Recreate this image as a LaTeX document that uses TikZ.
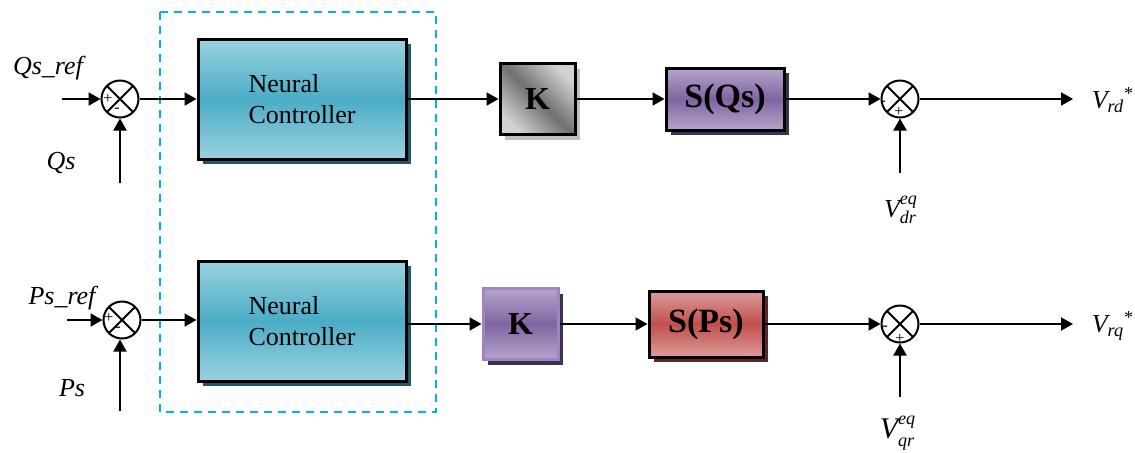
\documentclass[tikz,border=0pt]{standalone}
\usepackage{fontspec}
\setmainfont{Liberation Serif}
\usetikzlibrary{arrows.meta,shadows}

\definecolor{ncLight}{HTML}{9AD2E0}
\definecolor{ncDark}{HTML}{4BACC6}
\definecolor{ncShadow}{HTML}{205867}
\definecolor{kLight}{HTML}{D2D2D2}
\definecolor{kDark}{HTML}{707070}
\definecolor{vLight}{HTML}{B6A5CB}
\definecolor{vDark}{HTML}{8064A2}
\definecolor{vEdge}{HTML}{9D85C2}
\definecolor{vShadow}{HTML}{3F3151}
\definecolor{rLight}{HTML}{DD9C9A}
\definecolor{rDark}{HTML}{C0504D}
\definecolor{rShadow}{HTML}{632523}
\definecolor{zoneBlue}{HTML}{00B0F0}

% stacked super- and subscript
\newcommand{\eqidx}[2]{\rlap{\raisebox{1.05ex}{\fontsize{9}{9}\selectfont #1}}%
  \raisebox{-0.55ex}{\fontsize{9}{9}\selectfont #2}}

\begin{document}
\begin{tikzpicture}[x=0.5pt,y=-0.5pt,
  >={Triangle[length=6pt,width=6.5pt]},
  sig/.style={->,line width=1pt},
  summer/.style={circle,draw,line width=1pt,fill=white,minimum size=18.5pt,inner sep=0pt,
    path picture={\draw[line width=1pt]
      (path picture bounding box.north west) -- (path picture bounding box.south east)
      (path picture bounding box.north east) -- (path picture bounding box.south west);}},
  sign/.style={font=\fontsize{8}{8}\selectfont,inner sep=0pt},
  io/.style={font=\fontsize{13}{15}\selectfont\itshape,inner sep=0pt},
  block/.style={draw,line width=1.5pt,inner sep=0pt},
  ncbox/.style={block,minimum width=104pt,minimum height=60pt,align=left,
    font=\fontsize{13}{15.5}\selectfont,
    top color=ncLight,bottom color=ncLight,middle color=ncDark,
    drop shadow={shadow xshift=2.5pt,shadow yshift=-2.5pt,opacity=1,fill=ncShadow}},
  gainbox/.style={block,minimum width=37.5pt,minimum height=35.5pt,
    font=\fontsize{16}{18}\selectfont\bfseries},
  satbox/.style={block,minimum height=31pt,font=\fontsize{17}{19}\selectfont\bfseries},
  ctrlzone/.style={draw=zoneBlue,line width=1.2pt,dash pattern=on 4pt off 3pt}]

  \useasboundingbox (0,0) rectangle (1135,452);

  % neural part
  \draw[ctrlzone] (160,12) rectangle (436,412);

  % Q channel
  \node[summer] (sq) at (120,99) {};
  \node[sign] (sqp) at (108,99) {+};
  \node[sign] (sqm) at (117,110) {-};
  \node[ncbox] (ncq) at (302,99) {Neural\\Controller};
  \node[gainbox,left color=kLight,right color=kLight,middle color=kDark,shading angle=-45,
    drop shadow={shadow xshift=2.5pt,shadow yshift=-2.5pt,opacity=1,fill=black!25}]
    (kq) at (537.5,99) {K};
  \node[satbox,minimum width=59pt,top color=vLight,bottom color=vLight,middle color=vDark,
    drop shadow={shadow xshift=2.5pt,shadow yshift=-2.5pt,opacity=1,fill=vShadow}]
    (sqs) at (725,99) {S(Qs)};
  \node[summer] (oq) at (900,99) {};
  \node[sign] (oqm) at (883,103) {-};
  \node[sign] (oqp) at (899,112) {+};

  \node[io] (lqref) at (48,68) {Qs\_ref};
  \node[io] (lqs) at (61,163) {Qs};
  \node[io] (lvrd) at (1113,100) {V\textsubscript{rd}\textsuperscript{\upshape *}};
  \node[io] (lvdr) at (900,210) {V\eqidx{eq}{dr}};

  \coordinate (qin) at (62,99);
  \coordinate (qfb) at (120,183);
  \coordinate (qeq) at (900,173);
  \coordinate (qout) at (1073,99);

  \draw[sig] (qin) -- (sq);
  \draw[sig] (qfb) -- (sq);
  \draw[sig] (sq) -- (ncq);
  \draw[sig] (ncq) -- (kq);
  \draw[sig] (kq) -- (sqs);
  \draw[sig] (sqs) -- (oq);
  \draw[sig] (qeq) -- (oq);
  \draw[sig] (oq) -- (qout);

  % P channel
  \node[summer] (sp) at (122,320) {};
  \node[sign] (spp) at (109,318) {+};
  \node[sign] (spm) at (118,329) {-};
  \node[ncbox] (ncp) at (302,321) {Neural\\Controller};
  \node[gainbox,draw=vEdge,top color=vLight,bottom color=vLight,middle color=vDark,
    drop shadow={shadow xshift=2.5pt,shadow yshift=-2.5pt,opacity=1,fill=vShadow}]
    (kp) at (520.5,324) {K};
  \node[satbox,minimum width=57pt,minimum height=33pt,top color=rLight,bottom color=rLight,middle color=rDark,
    drop shadow={shadow xshift=2.5pt,shadow yshift=-2.5pt,opacity=1,fill=rShadow}]
    (sps) at (706,324) {S(Ps)};
  \node[summer] (op) at (900,324) {};
  \node[sign] (opm) at (885,328) {-};
  \node[sign] (opp) at (900,339) {+};

  \node[io] (lpref) at (62,298) {Ps\_ref};
  \node[io] (lps) at (72,388) {Ps};
  \node[io] (lvrq) at (1113,326) {V\textsubscript{rq}\textsuperscript{\upshape *}};
  \node[io,font=\fontsize{15}{17}\selectfont\itshape] (lvqr) at (897,433)
    {V\eqidx{eq}{qr}};

  \coordinate (pin) at (67,320);
  \coordinate (pfb) at (120,411);
  \coordinate (peq) at (900,397);
  \coordinate (pout) at (1073,324);

  \draw[sig] (pin) -- (sp);
  \draw[sig] (pfb) -- (sp.south -| pfb);
  \draw[sig] (sp) -- (sp -| ncp.west);
  \draw[sig] (ncp.east |- kp) -- (kp);
  \draw[sig] (kp) -- (sps);
  \draw[sig] (sps) -- (op);
  \draw[sig] (peq) -- (op);
  \draw[sig] (op) -- (pout);
\end{tikzpicture}
\end{document}
